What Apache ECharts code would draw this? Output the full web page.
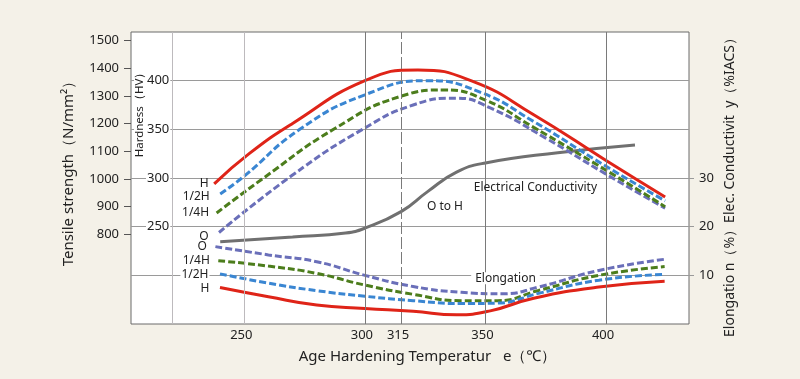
<!DOCTYPE html>
<html><head><meta charset="utf-8">
<script src="https://cdn.jsdelivr.net/npm/echarts@6/dist/echarts.min.js"></script>
<style>html,body{margin:0;padding:0;background:#f4f1e8}#c{width:800px;height:379px}</style>
</head><body><div id="c"></div>
<script>
// ---- data (x = age hardening temperature in °C) ----
const xTickLabels = [250, 300, 315, 350, 400];
const xGridLines = [220, 250, 300, 315, 350, 400];
const tensileTicks = [800, 900, 1000, 1100, 1200, 1300, 1400, 1500];
const hardnessTicks = [250, 300, 350, 400];
const rightTicks = [10, 20, 30];

// Hardness (HV)
const hardnessH = [[237.5,294],[252,325],[270,356],[300,400],[322,411],[345,399],[370,365],[400,318],[424.5,280.5]];
const hardnessHalfH = [[240,283.5],[250,302],[273,350],[300,385.5],[326,400],[348,388],[370,358],[400,312],[424.5,276.5]];
const hardnessQuarterH = [[238.5,264],[258,300],[287,350],[315,384],[333,390.5],[350,380],[370,352],[400,308],[424.5,270.5]];
const hardnessO = [[239.5,244],[270,303],[299,350],[320,375],[338,382],[352,372],[375,341],[400,304],[424.5,269]];

// Electrical conductivity (%IACS)
const conductivity = [[240,16.9],[270,17.9],[292,18.7],[300,19.7],[315,23.1],[326,27.2],[338,31.2],[350,33.1],[380,35.2],[412,36.8]];

// Elongation (%)
const elongO = [[238,15.9],[260,14.2],[280,12.8],[300,10.0],[320,7.7],[340,6.5],[357,6.2],[372,7.6],[397,11.0],[424.3,13.3]];
const elongQuarterH = [[239.2,13.0],[260,11.9],[280,10.4],[300,8.0],[320,6.1],[340,4.8],[355,4.8],[372,6.9],[397,10.0],[424.3,11.8]];
const elongHalfH = [[239.9,10.3],[260,8.4],[280,6.85],[300,5.7],[320,4.8],[340,4.2],[355,4.3],[372,6.3],[397,9.0],[424.3,10.2]];
const elongH = [[239.9,7.5],[260,5.6],[280,3.9],[300,3.2],[320,2.6],[338,1.9],[352,2.7],[370,5.3],[397,7.6],[424.3,8.8]];

// annotation anchor positions (temperature, right-axis value)
const noteTensile = [392, 46.8];
const noteConductivity = [370.7, 28.05];
const noteOtoH = [333.2, 24.1];
const noteElongation = [358.3, 9.4];

const FONT = 'Noto Sans';
const RED = '#df2418', BLUE = '#3a86d2', GREEN = '#4c7d1c', PURPLE = '#6a6fb9', GRAY = '#707070';

function startLabel(pt, text, dist, dy, bg) {
  return {
    coord: pt, symbol: 'circle', symbolSize: 1,
    itemStyle: { color: 'rgba(0,0,0,0)' },
    label: { show: true, position: 'left', distance: dist, offset: [0, dy || 0], formatter: text,
             fontFamily: FONT, fontSize: 12, color: '#222',
             backgroundColor: bg ? '#fff' : 'transparent', padding: bg ? [0, 1] : 0 }
  };
}
function note(pt, text, bg) {
  return {
    coord: pt, symbol: 'circle', symbolSize: 1,
    itemStyle: { color: 'rgba(0,0,0,0)' },
    label: { show: true, position: 'inside', formatter: text, fontFamily: FONT, fontSize: 12, color: '#222',
             backgroundColor: bg ? '#fff' : 'transparent', padding: bg ? [0, 4] : 0 }
  };
}
function curve(name, data, color, dashed, yIdx, marks) {
  return {
    name, type: 'line', data, xAxisIndex: 0, yAxisIndex: yIdx, smooth: 0.5,
    showSymbol: false, silent: true, z: 3,
    lineStyle: { color, width: 3, type: dashed ? [7, 3] : 'solid', cap: 'butt' },
    markPoint: marks ? { silent: true, data: marks, animation: false } : undefined
  };
}
const plain = v => String(v);

const chart = echarts.init(document.getElementById('c'));
chart.setOption({
  animation: false,
  backgroundColor: '#f4f1e8',
  textStyle: { fontFamily: FONT },
  grid: { left: 131, right: 111, top: 32, bottom: 55, show: true, backgroundColor: '#fff', borderColor: '#6b6b6b', borderWidth: 1 },
  xAxis: [{
    type: 'value', min: 203, max: 434.4,
    axisLine: { show: false }, axisTick: { show: false }, splitLine: { show: false },
    axisLabel: { customValues: xTickLabels, formatter: plain, margin: 5, fontSize: 13, color: '#222', fontFamily: FONT, padding: [0, 6, 0, 0] }
  }],
  yAxis: [{
    type: 'value', min: 476, max: 1531, position: 'left',
    axisLine: { show: false },
    axisTick: { show: true, customValues: tensileTicks, length: 7, lineStyle: { color: '#555' } },
    axisLabel: { customValues: tensileTicks, formatter: plain, margin: 12, fontSize: 13, color: '#222', fontFamily: FONT },
    splitLine: { show: false }
  }, {
    type: 'value', min: 150, max: 450, interval: 50, position: 'left',
    axisLine: { show: false }, axisTick: { show: false },
    axisLabel: { customValues: hardnessTicks, formatter: plain, inside: true, margin: 15, align: 'left', fontSize: 13, color: '#222',
                 fontFamily: FONT, backgroundColor: '#fff', padding: [0, 1] },
    splitLine: { show: true, showMinLine: false, showMaxLine: false, lineStyle: { color: '#9a9a9a', width: 1 } }
  }, {
    type: 'value', min: 0, max: 60, interval: 10, position: 'right',
    axisLine: { show: false },
    axisTick: { show: true, customValues: rightTicks, length: 5, lineStyle: { color: '#9a9a9a' } },
    axisLabel: { customValues: rightTicks, formatter: plain, margin: 10, fontSize: 13, color: '#222', fontFamily: FONT },
    splitLine: { show: false }
  }],
  graphic: [
    { type: 'text', x: 68.5, y: 170, rotation: Math.PI / 2, z: 100,
      style: { text: 'Tensile strength（N/mm²）', font: '15px "Noto Sans"', fill: '#222', align: 'center', verticalAlign: 'middle' } },
    { type: 'text', x: 730, y: 184, rotation: Math.PI / 2, z: 100,
      style: { text: 'Elongatio n（%）Elec. Conductivit  y（%IACS）', font: '14px "Noto Sans"', fill: '#222', align: 'center', verticalAlign: 'middle' } },
    { type: 'text', x: 427.5, y: 357, z: 100,
      style: { text: 'Age Hardening Temperatur   e（℃）', font: '15px "Noto Sans"', fill: '#222', align: 'center', verticalAlign: 'middle' } },
    { type: 'text', x: 140, y: 112, rotation: Math.PI / 2, z: 100,
      style: { text: 'Hardness（HV）', font: '11.5px "Noto Sans"', fill: '#222', align: 'center', verticalAlign: 'middle',
               backgroundColor: '#fff', padding: [0, 1] } }
  ],
  series: [
    {
      name: 'grid', type: 'line', data: [], yAxisIndex: 2, z: 1, silent: true,
      markLine: {
        silent: true, symbol: ['none', 'none'], label: { show: false }, animation: false,
        data: xGridLines.map(v => ({
          xAxis: v,
          lineStyle: {
            color: v < 300 ? '#bdbabd' : '#7a7a7a', width: 1,
            type: v === 315 ? [12, 3] : 'solid'
          }
        }))
      }
    },
    curve('Cond', conductivity, GRAY, false, 2, [note(noteConductivity, 'Electrical Conductivity', false), note(noteOtoH, 'O to H', false)]),
    curve('El O', elongO, PURPLE, true, 2, [startLabel(elongO[0], 'O', 8)]),
    curve('El 1/4H', elongQuarterH, GREEN, true, 2, [startLabel(elongQuarterH[0], '1/4H', 8)]),
    curve('El 1/2H', elongHalfH, BLUE, true, 2, [startLabel(elongHalfH[0], '1/2H', 10, 1, true), note(noteElongation, 'Elongation', true)]),
    curve('El H', elongH, RED, false, 2, [startLabel(elongH[0], 'H', 10, 1)]),
    curve('HV O', hardnessO, PURPLE, true, 1, [startLabel(hardnessO[0], 'O', 10, 4)]),
    curve('HV 1/4H', hardnessQuarterH, GREEN, true, 1, [startLabel(hardnessQuarterH[0], '1/4H', 7)]),
    curve('HV 1/2H', hardnessHalfH, BLUE, true, 1, [startLabel(hardnessHalfH[0], '1/2H', 10, 3)]),
    curve('HV H', hardnessH, RED, false, 1, [startLabel(hardnessH[0], 'H', 5), note(noteTensile, 'Tensile Strength, Hardness', false)])
  ]
});
</script></body></html>
